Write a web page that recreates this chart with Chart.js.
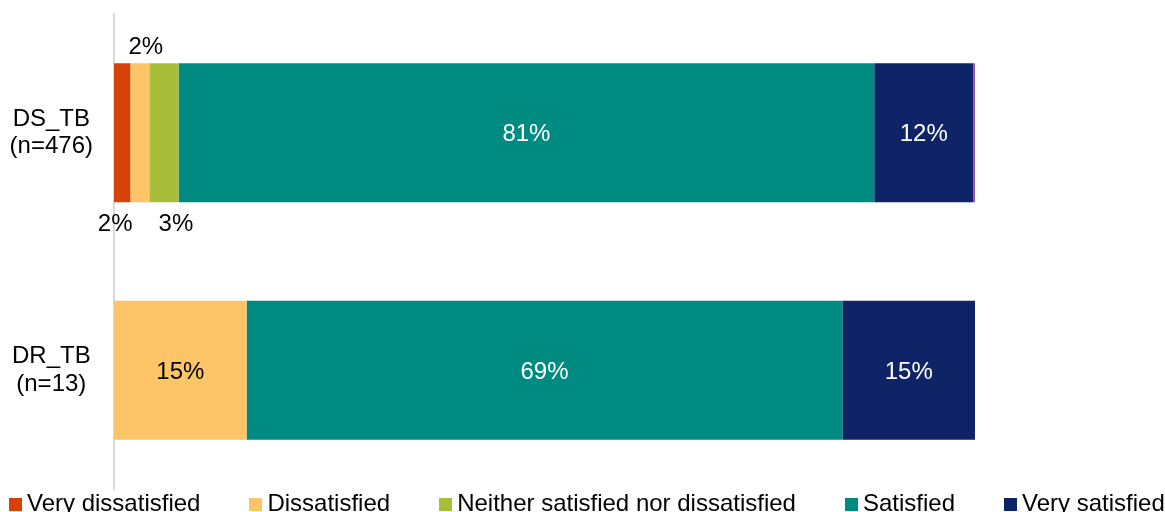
<!DOCTYPE html>
<html>
<head>
<meta charset="utf-8">
<script src="https://cdn.jsdelivr.net/npm/chart.js@4/dist/chart.umd.min.js"></script>
<style>
  body { margin: 0; background: #fff; }
  #wrap { position: relative; width: 1165px; height: 512px; overflow: hidden; }
  #legend {
    position: absolute; left: 9px; top: 491px;
    display: flex; gap: 49px;
    font-family: 'Liberation Sans', Arial, sans-serif; font-size: 24px; line-height: 24px; color: #000;
    white-space: nowrap;
  }
  #legend .item { display: flex; align-items: center; }
  #legend .box { width: 13px; height: 13px; margin-right: 5px; margin-top: 3px; }
</style>
</head>
<body>
<div id="wrap">
  <canvas id="barChart" width="1165" height="512"></canvas>
  <div id="legend"></div>
</div>
<script>
const groups = [['DS_TB', '(n=476)'], ['DR_TB', '(n=13)']];

const veryDissatisfied = [1.9, 0];
const dissatisfied = [2.2, 15.4];
const neither = [3.4, 0];
const satisfied = [80.8, 69.2];
const verySatisfied = [11.5, 15.4];
const noAnswer = [0.2, 0];

const series = [
  { label: 'Very dissatisfied', data: veryDissatisfied, color: '#d54309', text: '#000' },
  { label: 'Dissatisfied', data: dissatisfied, color: '#fdc567', text: '#000' },
  { label: 'Neither satisfied nor dissatisfied', data: neither, color: '#a8be3a', text: '#000' },
  { label: 'Satisfied', data: satisfied, color: '#008b82', text: '#fff' },
  { label: 'Very satisfied', data: verySatisfied, color: '#0e2466', text: '#fff' },
  { label: 'No answer', data: noAnswer, color: '#9b4fb5', text: null, hideLegend: true }
];

const FONT = "'Liberation Sans', Arial, sans-serif";

// small segments get their label outside the bar: below, above, below,
// nudged sideways so neighbouring labels don't collide
const outside = [
  { dy: 1, dx: -7 },
  { dy: -1, dx: 6 },
  { dy: 1, dx: 12 }
];

const segmentLabels = {
  id: 'segmentLabels',
  afterDatasetsDraw(chart) {
    const ctx = chart.ctx;
    ctx.save();
    ctx.font = '24px ' + FONT;
    ctx.textAlign = 'center';
    ctx.textBaseline = 'middle';
    chart.data.datasets.forEach((ds, i) => {
      if (!ds.labelColor) return;
      const meta = chart.getDatasetMeta(i);
      meta.data.forEach((bar, j) => {
        const v = ds.data[j];
        if (!v) return;
        let cx = (bar.x + bar.base) / 2;
        const half = bar.height / 2;
        let cy = bar.y + 2;
        let color = ds.labelColor;
        if (v < 5) {
          const o = outside[i] || { dy: 1, dx: 0 };
          color = '#000';
          cx += o.dx;
          cy = o.dy < 0 ? bar.y - half - 16 : bar.y + half + 22;
        }
        ctx.fillStyle = color;
        ctx.fillText(Math.round(v) + '%', cx, cy);
      });
    });
    ctx.restore();
  }
};

const ctx = document.getElementById('barChart').getContext('2d');
new Chart(ctx, {
  type: 'bar',
  data: {
    labels: groups,
    datasets: series.map(s => ({
      label: s.label,
      data: s.data,
      backgroundColor: s.color,
      labelColor: s.text,
      borderWidth: 0,
      barPercentage: 0.585,
      categoryPercentage: 1
    }))
  },
  options: {
    indexAxis: 'y',
    responsive: false,
    animation: false,
    layout: { padding: { top: 14, right: 190, bottom: 23, left: 0 } },
    plugins: {
      legend: { display: false },
      tooltip: { enabled: false }
    },
    scales: {
      x: {
        stacked: true,
        min: 0,
        max: 100,
        display: false
      },
      y: {
        stacked: true,
        grid: { display: false, drawTicks: false },
        border: { display: true, color: '#d9d9d9', width: 2 },
        ticks: {
          color: '#000',
          crossAlign: 'center',
          padding: 21,
          font: { family: FONT, size: 24, lineHeight: 1.15 }
        },
        afterFit(scale) {
          scale.width = 114;
          scale.paddingTop = 0;
          scale.paddingBottom = 0;
        }
      }
    }
  },
  plugins: [segmentLabels]
});

// legend row under the plot
const legendEl = document.getElementById('legend');
series.filter(s => !s.hideLegend).forEach(s => {
  const item = document.createElement('div');
  item.className = 'item';
  const box = document.createElement('span');
  box.className = 'box';
  box.style.background = s.color;
  const txt = document.createElement('span');
  txt.textContent = s.label;
  item.appendChild(box);
  item.appendChild(txt);
  legendEl.appendChild(item);
});
</script>
</body>
</html>
